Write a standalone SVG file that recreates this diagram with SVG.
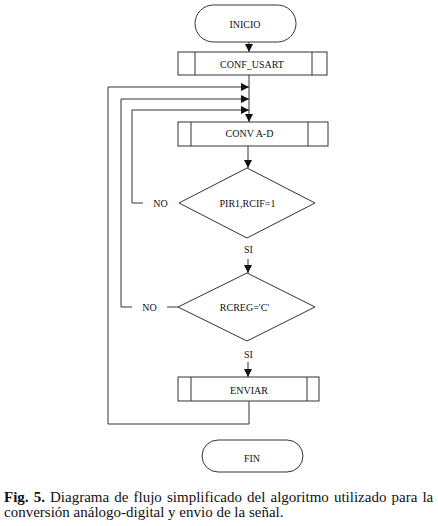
<svg xmlns="http://www.w3.org/2000/svg" width="438" height="526" viewBox="0 0 438 526">
<style>
.s{fill:#fff;stroke:#333;stroke-width:1}
.l{fill:none;stroke:#333;stroke-width:1}
.t{font-family:'Liberation Serif','DejaVu Serif',serif;font-size:10px;fill:#111;text-anchor:middle}
.c{font-family:'Liberation Serif','DejaVu Serif',serif;font-size:15px;fill:#111}
</style>
<defs>
<marker id="ah" viewBox="0 0 8 8" refX="8" refY="4" markerWidth="8" markerHeight="8" markerUnits="userSpaceOnUse" orient="auto">
<path d="M0,0 L8,4 L0,8 Z" fill="#111"/>
</marker>
</defs>
<rect width="438" height="526" fill="#fff"/>
<g id="connectors">
<line class="l" x1="249" y1="42" x2="249" y2="52" marker-end="url(#ah)"/>
<line class="l" x1="249" y1="75" x2="249" y2="122" marker-end="url(#ah)"/>
<polyline class="l" points="249,401 249,424 108,424 108,87 249,87" marker-end="url(#ah)"/>
<polyline class="l" points="132,307 121,307 121,99 249,99" marker-end="url(#ah)"/>
<polyline class="l" points="143,203 132,203 132,110 249,110" marker-end="url(#ah)"/>
<line class="l" x1="167" y1="307" x2="178" y2="307"/>
<line class="l" x1="248" y1="146" x2="248" y2="168" marker-end="url(#ah)"/>
<line class="l" x1="248" y1="259" x2="248" y2="273" marker-end="url(#ah)"/>
<line class="l" x1="248" y1="362" x2="248" y2="377" marker-end="url(#ah)"/>
<text class="t" x="160.5" y="206.5">NO</text>
<text class="t" x="149.5" y="310.5">NO</text>
<text class="t" x="248.5" y="252.5">SI</text>
<text class="t" x="248.5" y="357.5">SI</text>
</g>
<g id="inicio">
<rect class="s" x="195" y="5" width="101" height="37" rx="18.5"/>
<text class="t" x="245" y="27.5">INICIO</text>
</g>
<g id="conf_usart">
<rect class="s" x="178" y="52" width="149" height="23"/>
<line class="l" x1="195" y1="52" x2="195" y2="75"/>
<line class="l" x1="312" y1="52" x2="312" y2="75"/>
<text class="t" x="252" y="67.5">CONF_USART</text>
</g>
<g id="conv_ad">
<rect class="s" x="178" y="122" width="150" height="24"/>
<line class="l" x1="191" y1="122" x2="191" y2="146"/>
<line class="l" x1="308" y1="122" x2="308" y2="146"/>
<text class="t" x="249.5" y="137">CONV A-D</text>
</g>
<g id="pir1">
<polygon class="s" points="247,168 315,203 247,238 179,203"/>
<text class="t" x="247.5" y="206.5">PIR1,RCIF=1</text>
</g>
<g id="rcreg">
<polygon class="s" points="247,273 315,307 247,341 178,307"/>
<text class="t" x="244.5" y="310.5">RCREG='C'</text>
</g>
<g id="enviar">
<rect class="s" x="178" y="377" width="141" height="24"/>
<line class="l" x1="191" y1="377" x2="191" y2="401"/>
<line class="l" x1="307" y1="377" x2="307" y2="401"/>
<text class="t" x="249" y="393.5">ENVIAR</text>
</g>
<g id="fin">
<rect class="s" x="202" y="440" width="101" height="32" rx="16"/>
<text class="t" x="252" y="461.5">FIN</text>
</g>
<g id="caption">
<text class="c" x="4" y="502" word-spacing="1.35"><tspan font-weight="bold">Fig. 5.</tspan> Diagrama de flujo simplificado del algoritmo utilizado para la</text>
<text class="c" x="4" y="517">conversión análogo-digital y envio de la señal.</text>
</g>
</svg>
